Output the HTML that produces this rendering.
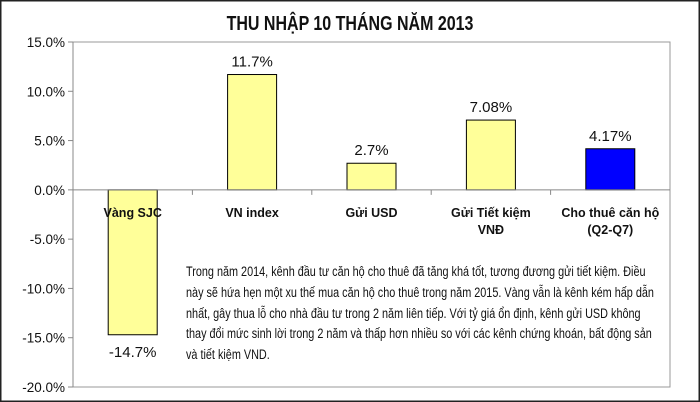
<!DOCTYPE html>
<html><head><meta charset="utf-8"><style>
body{margin:0;background:#fff}
#wrap{position:relative;width:700px;height:402px;overflow:hidden}
svg{position:absolute;left:0;top:0}
#note{position:absolute;left:186px;top:262px;width:590px;font-family:"Liberation Sans",sans-serif;font-size:13.4px;line-height:20.8px;color:#111;transform:scaleX(0.81);transform-origin:0 0}
</style></head><body>
<div id="wrap">
<svg id="svg" width="700" height="402"></svg>
<div id="note">Trong năm 2014, kênh đầu tư căn hộ cho thuê đã tăng khá tốt, tương đương gửi tiết kiệm. Điều này sẽ hứa hẹn một xu thế mua căn hộ cho thuê trong năm 2015. Vàng vẫn là kênh kém hấp dẫn nhất, gây thua lỗ cho nhà đầu tư trong 2 năm liên tiếp. Với tỷ giá ổn định, kênh gửi USD không thay đổi mức sinh lời trong 2 năm và thấp hơn nhiều so với các kênh chứng khoán, bất động sản và tiết kiệm VND.</div>
</div>
<script>
const categories=[["Vàng SJC"],["VN index"],["Gửi USD"],["Gửi Tiết kiệm","VNĐ"],["Cho thuê căn hộ","(Q2-Q7)"]];
const values=[-14.7,11.7,2.7,7.08,4.17];
const valueLabels=["-14.7%","11.7%","2.7%","7.08%","4.17%"];
const yTicks=[15,10,5,0,-5,-10,-15,-20];
const yTickLabels=["15.0%","10.0%","5.0%","0.0%","-5.0%","-10.0%","-15.0%","-20.0%"];
const colors=["#ffff99","#ffff99","#ffff99","#ffff99","#0000ff"];

const svg=document.getElementById('svg');
const NS='http://www.w3.org/2000/svg';
const L=73,R=670,T=42,B=387,ymin=-20,ymax=15;
const y=v=>T+(ymax-v)/(ymax-ymin)*(B-T);
const bw=(R-L)/categories.length;
const x=i=>L+bw*(i+0.5);
function mk(t,a,txt){const e=document.createElementNS(NS,t);for(const k in a)e.setAttribute(k,a[k]);if(txt!=null)e.textContent=txt;svg.appendChild(e);return e;}

let e=mk('rect',{x:0.5,y:0.5,width:699,height:401,fill:'none',stroke:'#222',"stroke-width":2});


e=mk('rect',{x:L,y:T,width:R-L,height:B-T,fill:'none',stroke:'#999',"stroke-width":1});


e=mk('text',{x:0,y:0,"text-anchor":"middle","font-family":"Liberation Sans, sans-serif","font-size":20,"font-weight":"bold",fill:"#111",transform:"translate(350,30) scale(0.8,1)"},"THU NHẬP 10 THÁNG NĂM 2013");



yTicks.forEach((t,i)=>{
  const l=mk('line',{x1:L-5,x2:L,y1:y(t),y2:y(t),stroke:'#888'});
  
  
  const tx=mk('text',{x:L-8,y:y(t)+5,"text-anchor":"end","font-family":"Liberation Sans, sans-serif","font-size":13.5,fill:"#111"},yTickLabels[i]);
  
  
});
e=mk('line',{x1:L,x2:L,y1:T,y2:B,stroke:'#888'});



values.forEach((v,i)=>{
  const cx=x(i),w=49;
  const top=Math.min(y(v),y(0)),h=Math.abs(y(v)-y(0));
  const r=mk('rect',{x:cx-w/2,y:top,width:w,height:h,fill:colors[i],stroke:'#000',"stroke-width":1});
  
  
  const ly=v>=0?y(v)-8:y(v)+22;
  const t=mk('text',{x:cx,y:ly,"text-anchor":"middle","font-family":"Liberation Sans, sans-serif","font-size":15,fill:"#111"},valueLabels[i]);
  
  
});
e=mk('line',{x1:L,x2:R,y1:y(0),y2:y(0),stroke:'#888'});


for(let i=1;i<categories.length;i++){
  const l=mk('line',{x1:L+bw*i,x2:L+bw*i,y1:y(0),y2:y(0)+5,stroke:'#888'});
  
  
}
categories.forEach((c,i)=>{
  c.forEach((s,j)=>{
    const t=mk('text',{x:x(i),y:y(0)+27+j*17,"text-anchor":"middle","font-family":"Liberation Sans, sans-serif","font-size":12.5,"font-weight":"bold",fill:"#111"},s);
    
    
  });
});
</script>
</body></html>
